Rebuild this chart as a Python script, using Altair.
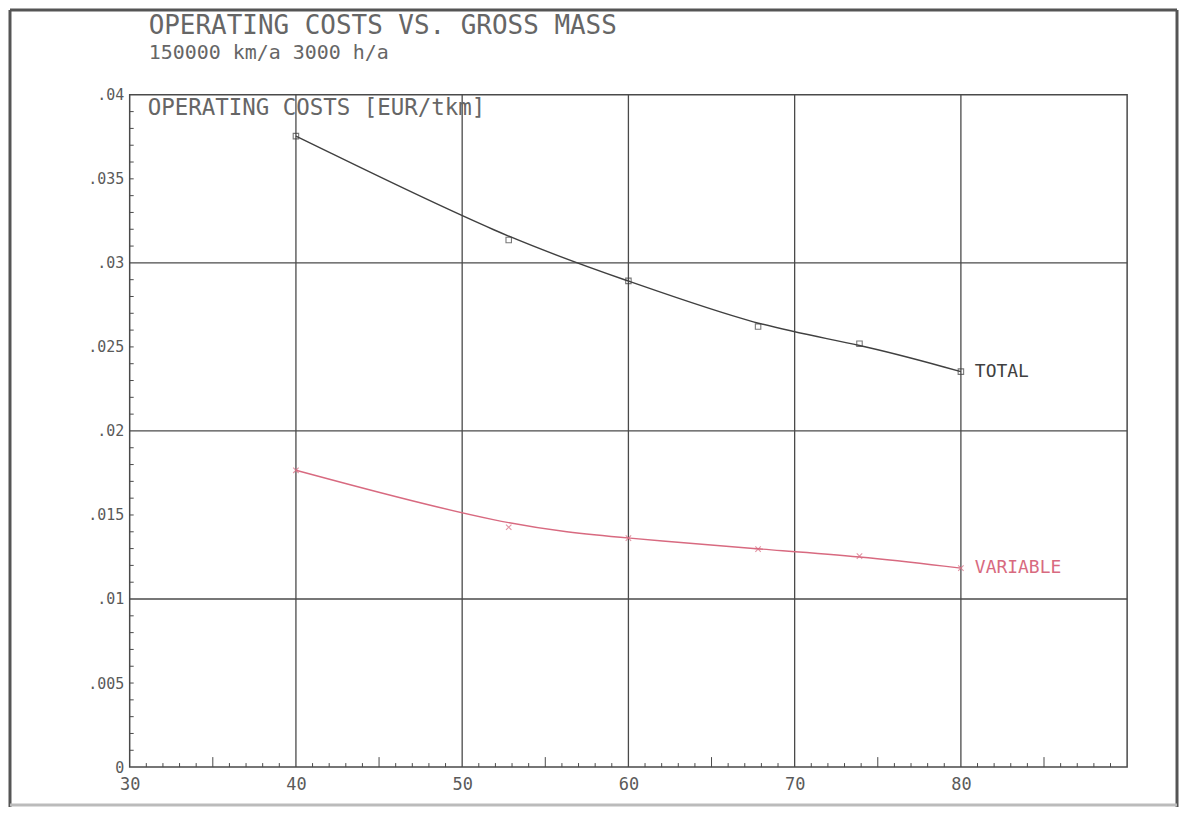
import altair as alt
import pandas as pd

# ---- data ----
gross_mass = [40, 52.8, 60, 67.8, 73.9, 80]
total_cost = [0.03754, 0.03136, 0.02893, 0.02621, 0.02519, 0.02353]
variable_cost = [0.01766, 0.01427, 0.01362, 0.01297, 0.01255, 0.01184]
series_names = ["TOTAL", "VARIABLE"]
series_colors = ["#404040", "#d86a80"]

title_text = "OPERATING COSTS VS. GROSS MASS"
subtitle_text = "150000 km/a 3000 h/a"
y_title_text = "OPERATING COSTS [EUR/tkm]"

x_label_values = [30, 40, 50, 60, 70, 80]
x_grid_values = [40, 50, 60, 70, 80]
y_label_values = [0, 0.005, 0.01, 0.015, 0.02, 0.025, 0.03, 0.035, 0.04]
y_grid_values = [0.01, 0.02, 0.03]
x_minor = [v for v in range(31, 90) if v % 5 != 0]
x_mid = [35, 45, 55, 65, 75, 85]
y_minor = [round(i * 0.001, 3) for i in range(1, 40) if i % 10 != 0]

FONT = "DejaVu Sans Mono"
GRID = "#4a4a4a"
TXT = "#5a5a5a"

df = pd.DataFrame({
    "mass": gross_mass * 2,
    "cost": total_cost + variable_cost,
    "series": [series_names[0]] * len(gross_mass) + [series_names[1]] * len(gross_mass),
})
last = pd.DataFrame({
    "mass": [gross_mass[-1], gross_mass[-1]],
    "cost": [total_cost[-1], variable_cost[-1]],
    "series": series_names,
})

xs = alt.Scale(domain=[30, 90], nice=False, zero=False)
ys = alt.Scale(domain=[0, 0.04], nice=False)
cs = alt.Scale(domain=series_names, range=series_colors)

x_axis = alt.Axis(values=x_label_values, grid=False, ticks=False, domain=False,
                  labelFont=FONT, labelFontSize=17, labelColor=TXT, labelPadding=9,
                  labelFlush=False, title=None)
y_axis = alt.Axis(values=y_label_values, grid=False, ticks=False, domain=False,
                  labelFont=FONT, labelFontSize=15, labelColor=TXT, labelPadding=6,
                  labelFlush=False,
                  labelExpr="datum.value == 0 ? '0' : replace(format(datum.value, '.3~f'), '0.', '.')",
                  title=None)

base_axes = alt.Chart(pd.DataFrame({"mass": [30, 90], "cost": [0, 0.04]})).mark_point(opacity=0).encode(
    x=alt.X("mass:Q", scale=xs, axis=x_axis),
    y=alt.Y("cost:Q", scale=ys, axis=y_axis),
)

vgrid = alt.Chart(pd.DataFrame({"g": x_grid_values})).mark_rule(color=GRID, strokeWidth=1.3).encode(
    x=alt.X("g:Q", scale=xs))
hgrid = alt.Chart(pd.DataFrame({"g": y_grid_values})).mark_rule(color=GRID, strokeWidth=1.3).encode(
    y=alt.Y("g:Q", scale=ys))

xminor = alt.Chart(pd.DataFrame({"t": x_minor})).mark_rule(color=GRID, strokeWidth=1).encode(
    x=alt.X("t:Q", scale=xs), y=alt.value(674), y2=alt.value(670))
xmid = alt.Chart(pd.DataFrame({"t": x_mid})).mark_rule(color=GRID, strokeWidth=1).encode(
    x=alt.X("t:Q", scale=xs), y=alt.value(674), y2=alt.value(664))
yminor = alt.Chart(pd.DataFrame({"t": y_minor})).mark_rule(color=GRID, strokeWidth=1).encode(
    y=alt.Y("t:Q", scale=ys), x=alt.value(0), x2=alt.value(4))

lines = alt.Chart(df).mark_line(interpolate="basis", strokeWidth=1.4).encode(
    x=alt.X("mass:Q", scale=xs),
    y=alt.Y("cost:Q", scale=ys),
    color=alt.Color("series:N", scale=cs, legend=None),
    detail="series:N",
)

tot_pts = alt.Chart(df[df.series == series_names[0]]).mark_point(
    shape="square", filled=False, size=30, strokeWidth=1.1, color=series_colors[0]).encode(
    x=alt.X("mass:Q", scale=xs), y=alt.Y("cost:Q", scale=ys))
var_pts = alt.Chart(df[df.series == series_names[1]]).mark_point(
    shape="M-1,-1L1,1M-1,1L1,-1", filled=False, size=30, strokeWidth=1.1, color=series_colors[1]).encode(
    x=alt.X("mass:Q", scale=xs), y=alt.Y("cost:Q", scale=ys))

end_labels = alt.Chart(last).mark_text(align="left", baseline="middle", dx=14, font=FONT, fontSize=18).encode(
    x=alt.X("mass:Q", scale=xs), y=alt.Y("cost:Q", scale=ys),
    text="series:N",
    color=alt.Color("series:N", scale=cs, legend=None),
)

one = pd.DataFrame({"k": [0]})
title = alt.Chart(one).mark_text(align="left", baseline="alphabetic", font=FONT, fontSize=26, color="#666666").encode(
    x=alt.value(19), y=alt.value(-61), text=alt.value(title_text))
subtitle = alt.Chart(one).mark_text(align="left", baseline="alphabetic", font=FONT, fontSize=20, color="#666666").encode(
    x=alt.value(19), y=alt.value(-36), text=alt.value(subtitle_text))
ytitle = alt.Chart(one).mark_text(align="left", baseline="alphabetic", font=FONT, fontSize=22.5, color="#666666").encode(
    x=alt.value(18), y=alt.value(20), text=alt.value(y_title_text))

frame_left = alt.Chart(one).mark_rule(color="#555555", strokeWidth=3).encode(
    x=alt.value(-120), y=alt.value(-85), y2=alt.value(714))
frame_top = alt.Chart(one).mark_rule(color="#555555", strokeWidth=3).encode(
    x=alt.value(-120), x2=alt.value(1050), y=alt.value(-85))
frame_right = alt.Chart(one).mark_rule(color="#555555", strokeWidth=3).encode(
    x=alt.value(1050), y=alt.value(-85), y2=alt.value(714))
frame_bottom = alt.Chart(one).mark_rule(color="#bbbbbb", strokeWidth=3).encode(
    x=alt.value(-120), x2=alt.value(1050), y=alt.value(712))

chart = alt.layer(
    base_axes, vgrid, hgrid, xminor, xmid, yminor, lines, tot_pts, var_pts, end_labels,
    title, subtitle, ytitle, frame_left, frame_top, frame_right, frame_bottom,
).properties(
    width=1000, height=674,
    autosize=alt.AutoSizeParams(type="none"),
    padding={"left": 122, "top": 86, "right": 52, "bottom": 40},
    background="white",
).configure_view(stroke=GRID, strokeWidth=1.5)

chart.save("out.html", embed_options={"renderer": "svg", "actions": False})
